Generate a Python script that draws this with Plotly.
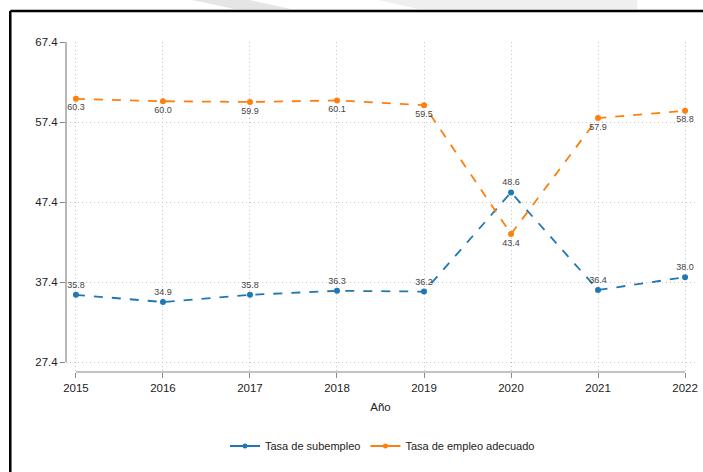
import plotly.graph_objects as go

years = [2015, 2016, 2017, 2018, 2019, 2020, 2021, 2022]
subempleo = [35.8, 34.9, 35.8, 36.3, 36.2, 48.6, 36.4, 38.0]
adecuado = [60.3, 60.0, 59.9, 60.1, 59.5, 43.4, 57.9, 58.8]
y_ticks = [27.4, 37.4, 47.4, 57.4, 67.4]
names = ["Tasa de subempleo", "Tasa de empleo adecuado"]
colors = ["#1f77b4", "#ff7f0e"]

FONT = "Liberation Sans Narrow, Arial Narrow, Liberation Sans, Arial"

W, H = 703, 472
L, R, T, B = 66, 5, 42, 100
pw, ph = W - L - R, H - T - B


def px(x):
    return (x - L) / pw


def py(y):
    return (H - B - y) / ph


fig = go.Figure()

series = [subempleo, adecuado]
positions = ["top center", "bottom center"]
for vals, name, col, pos in zip(series, names, colors, positions):
    fig.add_trace(go.Scatter(
        x=years, y=vals, mode="lines+markers+text", name=name,
        line=dict(color=col, width=1.8, dash="dash"),
        marker=dict(color=col, size=6),
        text=[f"{v:.1f}" for v in vals], textposition=pos,
        textfont=dict(family=FONT, size=9, color="#444"),
        showlegend=False, cliponaxis=False,
    ))
    fig.add_trace(go.Scatter(
        x=[None], y=[None], mode="lines+markers", name=name,
        line=dict(color=col, width=1.8), marker=dict(color=col, size=5),
    ))

x0 = 2015 - 10 / (612 / 7)
x1 = 2022 + 10 / (612 / 7)
y0 = 27.4 - 10 / 8

shapes = [
    dict(type="line", xref="paper", yref="y", x0=0, x1=0, y0=27.4, y1=67.4,
         line=dict(color="#888", width=1.2)),
    dict(type="line", xref="x", yref="paper", x0=2015, x1=2022, y0=0, y1=0,
         line=dict(color="#888", width=1.2)),
    dict(type="line", xref="paper", yref="paper", x0=px(10), x1=px(10), y0=py(11), y1=py(480),
         line=dict(color="black", width=2.5)),
    dict(type="line", xref="paper", yref="paper", x0=px(10), x1=px(710), y0=py(11), y1=py(11),
         line=dict(color="black", width=2.5)),
    dict(type="path", xref="paper", yref="paper",
         path=f"M {px(193)},{py(0)} L {px(250)},{py(0)} L {px(292)},{py(9)} L {px(235)},{py(9)} Z",
         fillcolor="rgba(170,170,170,0.3)", line=dict(width=0)),
    dict(type="path", xref="paper", yref="paper",
         path=f"M {px(380)},{py(0)} L {px(640)},{py(0)} L {px(640)},{py(9)} L {px(420)},{py(9)} Z",
         fillcolor="rgba(190,190,190,0.25)", line=dict(width=0)),
]

grid = dict(showgrid=True, gridcolor="#c4c4c4", griddash="1px,3px", gridwidth=1)

fig.update_layout(
    width=W, height=H,
    margin=dict(l=L, r=R, t=T, b=B),
    paper_bgcolor="white", plot_bgcolor="white",
    font=dict(family=FONT, size=11, color="#222"),
    shapes=shapes,
    legend=dict(orientation="h", x=px(384), xanchor="center", y=py(446), yanchor="middle",
                font=dict(family=FONT, size=11, color="#222")),
    xaxis=dict(
        range=[x0, x1], tickvals=years, ticktext=[str(y) for y in years],
        zeroline=False, showline=False, ticks="outside", ticklen=5, tickcolor="#888",
        tickfont=dict(family=FONT, size=11.5),
        title=dict(text="Año", standoff=10, font=dict(family=FONT, size=11.5)),
        **grid,
    ),
    yaxis=dict(
        range=[y0, 67.4], tickvals=y_ticks, ticktext=[f"{v:.1f}" for v in y_ticks],
        zeroline=False, showline=False, ticks="outside", ticklen=5, tickcolor="#888",
        tickfont=dict(family=FONT, size=11.5),
        **grid,
    ),
)

fig.write_html("out.html", config={"displayModeBar": False},
               post_script="document.body.style.margin='0';document.body.style.overflow='hidden';")
